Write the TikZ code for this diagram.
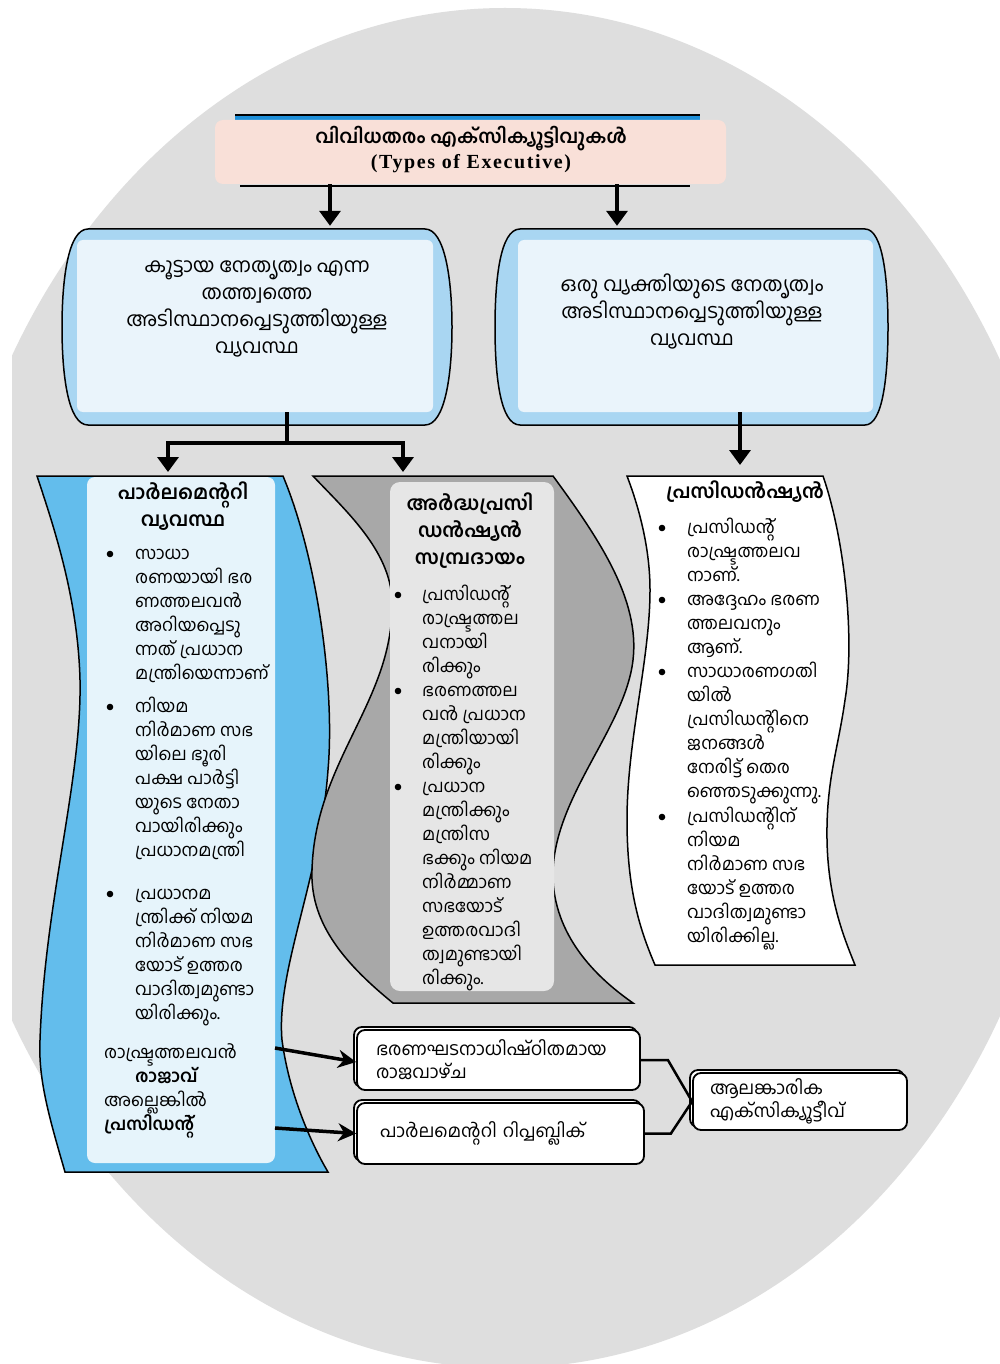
\documentclass[tikz,border=0pt]{standalone}
\usepackage{fontspec}
\setmainfont{Liberation Serif}
\newfontfamily\ml[Script=Malayalam]{Hind Kochi}
\usetikzlibrary{arrows.meta,shadows}
\definecolor{bggrey}{HTML}{DEDEDE}
\definecolor{blueC}{HTML}{63BDEC}
\definecolor{bluePanel}{HTML}{E6F4FB}
\definecolor{boxBlue}{HTML}{A9D6F2}
\definecolor{boxPanel}{HTML}{EAF4FB}
\definecolor{greyC}{HTML}{A8A8A8}
\definecolor{greyPanel}{HTML}{E6E6E6}
\definecolor{pinkT}{HTML}{F9E0D8}
\definecolor{titleBlue}{HTML}{1E8FD8}
\newcommand\fls{\rule{0pt}{17pt}}
\newcommand\flh{\rule{0pt}{20pt}}
\newcommand\flb{\rule{0pt}{21pt}}
\newcommand\mlblock[4]{\node[body] (#1) at (#2,{#3-11}) {\fls#4};}
\newcommand\bul[2]{\fill (#1,{#2+1}) circle (3.3pt);}
\begin{document}
\begin{tikzpicture}[x=1pt,y=-1pt,
  body/.style={font=\ml\fontsize{17.5}{24}\selectfont, inner sep=0pt, align=left, anchor=north west},
  colhead/.style={font=\ml\bfseries\fontsize{19.5}{27}\selectfont, inner sep=0pt, align=center, anchor=north},
  boxtext/.style={font=\ml\fontsize{20}{27}\selectfont, inner sep=0pt, align=center, anchor=north},
  arr/.style={line width=3.5pt, -{Triangle[length=15pt,width=21pt]}},
  barr/.style={line width=3.5pt, -{Stealth[length=18pt,width=18pt]}},
  outl/.style={draw=black, line width=1.5pt},
  btmbox/.style={draw=black, fill=white, line width=1.8pt, rounded corners=8pt,
     copy shadow={shadow xshift=-3pt, shadow yshift=3pt},
     font=\ml\fontsize{18}{23}\selectfont, align=left, inner ysep=0pt}
]
\useasboundingbox (0,0) rectangle (1000,1364);
\fill[white] (0,0) rectangle (1000,1364);
% background ellipse
\begin{scope}
\clip (12,0) rectangle (1000,1364);
\fill[bggrey] (505,688) ellipse [x radius=565pt, y radius=680pt];
\end{scope}

% title
\fill[titleBlue] (235,115) rectangle (700,124);
\draw[line width=1.5pt] (235,115) -- (700,115);
\draw[line width=1.5pt] (240,186) -- (690,186);
\node[fill=pinkT, rounded corners=8pt, minimum width=511pt, minimum height=64pt, inner sep=0pt] (title) at (470.5,152) {};
\node[align=center, inner sep=0pt, font=\bfseries\fontsize{20}{25}\selectfont] (titletext) at (471,150)
  {{\ml\fontsize{19}{25}\selectfont വിവിധതരം എക്സിക്യൂട്ടിവുകൾ}\\{\addfontfeatures{LetterSpace=8}(Types of Executive)}};

% second-level boxes
\filldraw[fill=boxBlue, outl] (88,229) -- (425,229) .. controls (445,229) and (452,280) .. (452,327)
  .. controls (452,375) and (445,425) .. (425,425) -- (88,425) .. controls (68,425) and (62,375) .. (62,327)
  .. controls (62,280) and (68,229) .. (88,229) -- cycle;
\node[fill=boxPanel, rounded corners=6pt, minimum width=356pt, minimum height=172pt, inner sep=0pt] (boxL) at (255,326) {};
\filldraw[fill=boxBlue, outl] (520,229) -- (865,229) .. controls (883,229) and (888,280) .. (888,327)
  .. controls (888,375) and (883,425) .. (865,425) -- (520,425) .. controls (500,425) and (495,375) .. (495,327)
  .. controls (495,280) and (500,229) .. (520,229) -- cycle;
\node[fill=boxPanel, rounded corners=6pt, minimum width=355pt, minimum height=172pt, inner sep=0pt] (boxR) at (695.5,326) {};
\node[boxtext] (boxLtext) at (257,251) {\flb കൂട്ടായ നേതൃത്വം എന്ന\\തത്ത്വത്തെ\\അടിസ്ഥാനപ്പെടുത്തിയുള്ള\\വ്യവസ്ഥ};
\node[boxtext] (boxRtext) at (692,270) {\flb ഒരു വ്യക്തിയുടെ നേതൃത്വം\\അടിസ്ഥാനപ്പെടുത്തിയുള്ള\\വ്യവസ്ഥ};

% arrows from title
\coordinate (xa) at (330,0);
\coordinate (xb) at (617,0);
\draw[arr] (title.south -| xa) -- ([yshift=14pt]boxL.north -| xa);
\draw[arr] (title.south -| xb) -- ([yshift=14pt]boxR.north -| xb);

% column shapes
\filldraw[fill=blueC, outl] (37,476) -- (283,476) .. controls (318,560) and (335,690) .. (328,770)
  .. controls (320,880) and (276,970) .. (282,1040) .. controls (290,1100) and (315,1150) .. (328,1172)
  -- (65,1172) .. controls (50,1120) and (38,1080) .. (40,1040) .. controls (45,900) and (82,780) .. (80,680)
  .. controls (78,600) and (55,530) .. (37,476) -- cycle;
\fill[bluePanel, rounded corners=8pt] (87,477) rectangle (275,1163);
\filldraw[fill=greyC, outl] (313,476) -- (553,476) .. controls (600,540) and (640,600) .. (633,660)
  .. controls (625,730) and (550,800) .. (553,880) .. controls (556,940) and (600,980) .. (633,1003)
  -- (393,1003) .. controls (340,960) and (310,920) .. (312,870) .. controls (315,760) and (395,700) .. (392,600)
  .. controls (390,550) and (345,510) .. (313,476) -- cycle;
\fill[greyPanel, rounded corners=10pt] (390,482) rectangle (554,991);
\filldraw[fill=white, outl] (627,476) -- (823,476) .. controls (845,540) and (855,640) .. (845,700)
  .. controls (838,750) and (826,780) .. (827,840) .. controls (828,900) and (845,940) .. (855,965)
  -- (655,965) .. controls (640,930) and (627,890) .. (627,820) .. controls (627,740) and (650,660) .. (650,590)
  .. controls (650,550) and (640,510) .. (627,476) -- cycle;

% connectors to columns
\coordinate (colP) at (168,472);
\coordinate (colS) at (403,472);
\coordinate (colR) at (740,465);
\coordinate (jn) at (287,443);
\draw[line width=3.5pt] (boxL.south -| jn) -- (jn);
\draw[line width=3.5pt] (jn) -- (jn -| colP);
\draw[line width=3.5pt] (jn) -- (jn -| colS);
\draw[arr] ([xshift=-1.75pt]jn -| colP) -- ++(1.75,0) -- (colP);
\draw[arr] ([xshift=1.75pt]jn -| colS) -- ++(-1.75,0) -- (colS);
\draw[arr] (boxR.south -| colR) -- (colR);

% parliamentary column
\node[colhead] (hP) at (183,479) {\flh പാർലമെന്ററി\\വ്യവസ്ഥ};
\bul{110}{553}
\mlblock{p1}{135}{553}{സാധാ\\രണയായി ഭര\\ണത്തലവൻ\\അറിയപ്പെടു\\ന്നത് പ്രധാന\\മന്ത്രിയെന്നാണ്}
\bul{110}{706}
\mlblock{p2}{135}{706}{നിയമ\\നിർമാണ സഭ\\യിലെ ഭൂരി\\പക്ഷ പാർട്ടി\\യുടെ നേതാ\\വായിരിക്കും\\പ്രധാനമന്ത്രി}
\bul{110}{893}
\mlblock{p3}{135}{893}{പ്രധാനമ\\ന്ത്രിക്ക് നിയമ\\നിർമാണ സഭ\\യോട് ഉത്തര\\വാദിത്വമുണ്ടാ\\യിരിക്കും.}
\mlblock{p4}{104}{1052}{രാഷ്ട്രത്തലവൻ\\\hspace*{31pt}\textbf{രാജാവ്}\\അല്ലെങ്കിൽ\\\textbf{പ്രസിഡന്റ്}}

% semi-presidential column
\node[colhead] (hS) at (470,490) {\flh അർദ്ധപ്രസി\\ഡൻഷ്യൻ\\സമ്പ്രദായം};
\bul{398}{594}
\mlblock{s1}{422}{594}{പ്രസിഡന്റ്\\രാഷ്ട്രത്തല\\വനായി\\രിക്കും}
\bul{398}{690}
\mlblock{s2}{422}{690}{ഭരണത്തല\\വൻ പ്രധാന\\മന്ത്രിയായി\\രിക്കും}
\bul{398}{786}
\mlblock{s3}{422}{786}{പ്രധാന\\മന്ത്രിക്കും\\മന്ത്രിസ\\ഭക്കും നിയമ\\നിർമ്മാണ\\സഭയോട്\\ഉത്തരവാദി\\ത്വമുണ്ടായി\\രിക്കും.}

% presidential column
\node[colhead] (hR) at (745,478) {\flh പ്രസിഡൻഷ്യൻ};
\bul{662}{527}
\mlblock{r1}{687}{527}{പ്രസിഡന്റ്\\രാഷ്ട്രത്തലവ\\നാണ്.}
\bul{662}{599}
\mlblock{r2}{687}{599}{അദ്ദേഹം ഭരണ\\ത്തലവനും\\ആണ്.}
\bul{662}{671}
\mlblock{r3}{687}{671}{സാധാരണഗതി\\യിൽ\\പ്രസിഡന്റിനെ\\ജനങ്ങൾ\\നേരിട്ട് തെര\\ഞ്ഞെടുക്കുന്നു.}
\bul{662}{816}
\mlblock{r4}{687}{816}{പ്രസിഡന്റിന്\\നിയമ\\നിർമാണ സഭ\\യോട് ഉത്തര\\വാദിത്വമുണ്ടാ\\യിരിക്കില്ല.}

% bottom boxes
\node[btmbox, minimum width=283pt, minimum height=60pt, inner xsep=19pt, text width=245pt] (bA) at (498.5,1060)
  {ഭരണഘടനാധിഷ്ഠിതമായ\\രാജവാഴ്ച};
\node[btmbox, minimum width=287pt, minimum height=61pt, inner xsep=23pt, text width=241pt] (bB) at (500.5,1133.5)
  {പാർലമെന്ററി റിപ്പബ്ലിക്};
\node[btmbox, minimum width=214pt, minimum height=57pt, inner xsep=17pt, text width=180pt] (bC) at (800,1101.5)
  {ആലങ്കാരിക\\എക്സിക്യൂട്ടീവ്};

\coordinate (a1s) at (275,1048);
\coordinate (a2s) at (275,1128);
\draw[barr] (a1s) -- ([yshift=-2pt]bA.west);
\draw[barr] (a2s) -- (bB.west);
\draw[line width=2.5pt] (bA.east) -- ++(27,0) -- (bC.west);
\draw[line width=2.5pt] (bB.east) -- ++(26,0) -- (bC.west);
\end{tikzpicture}
\end{document}
